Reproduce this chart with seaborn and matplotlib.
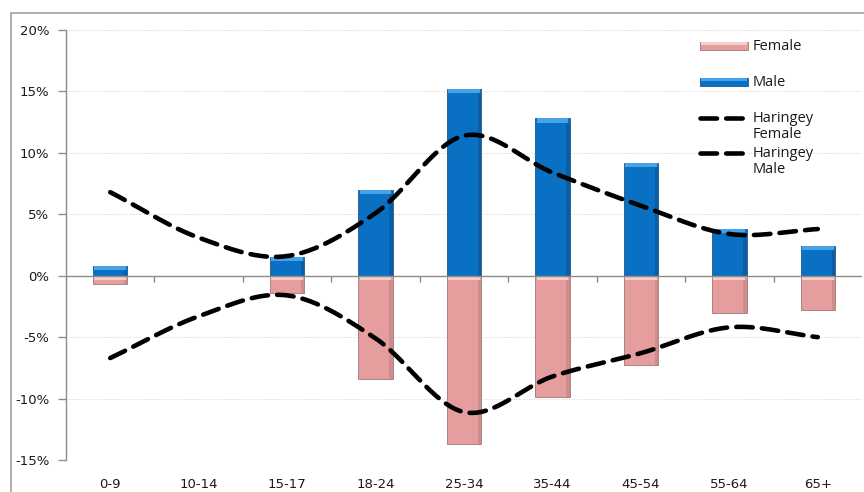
import numpy as np
import pandas as pd
import matplotlib
matplotlib.use("Agg")
import matplotlib.pyplot as plt
from matplotlib.patches import Rectangle
from matplotlib.lines import Line2D
import seaborn as sns

# Age bands and population shares (%)
age_groups = ["0-9", "10-14", "15-17", "18-24", "25-34", "35-44", "45-54", "55-64", "65+"]
male = [0.8, 0.0, 1.5, 7.0, 15.2, 12.8, 9.2, 3.8, 2.4]
female = [-0.7, 0.0, -1.4, -8.4, -13.7, -9.9, -7.3, -3.0, -2.8]
haringey_male = [6.8, 3.1, 1.6, 5.1, 11.4, 8.4, 5.7, 3.4, 3.8]
haringey_female = [-6.7, -3.3, -1.6, -5.1, -11.1, -8.2, -6.3, -4.2, -5.0]
y_ticks = [-15, -10, -5, 0, 5, 10, 15, 20]

sns.set_theme(style="white")
plt.rcParams["font.family"] = ["DejaVu Sans"]

df = pd.DataFrame({"age": age_groups, "male": male, "female": female})

fig = plt.figure(figsize=(8.64, 4.92), dpi=100)
ax = fig.add_axes([0.0764, 0.065, 0.9213, 0.874])

blue = "#0A70C4"
pink = "#E59E9D"
sns.barplot(data=df, x="age", y="male", color=blue, width=0.39, ax=ax,
            saturation=1, edgecolor="#2f6596", linewidth=0.7)
sns.barplot(data=df, x="age", y="female", color=pink, width=0.39, ax=ax,
            saturation=1, edgecolor="#a88382", linewidth=0.7)

# bevel: lighter strip along the top of every bar, darker right edge
for p in list(ax.patches):
    h = p.get_height()
    if h == 0:
        continue
    top = max(p.get_y(), p.get_y() + h)
    strip = min(0.33, abs(h) * 0.45)
    light = "#45a3e6" if h > 0 else "#f5cdcb"
    dark = "#0a5ea6" if h > 0 else "#cf8c8b"
    w = p.get_width()
    ax.add_patch(Rectangle((p.get_x() + 0.015, top - strip), w - 0.03, strip,
                           color=light, lw=0, zorder=2.5))
    ax.add_patch(Rectangle((p.get_x() + w * 0.9, min(p.get_y(), p.get_y() + h)),
                           w * 0.1, abs(h) - strip, color=dark, lw=0, zorder=2.4))


def smooth(xs, ys, n=30):
    """Catmull-Rom curve through the given points."""
    xs = np.asarray(xs, float)
    ys = np.asarray(ys, float)
    px = np.concatenate([[2 * xs[0] - xs[1]], xs, [2 * xs[-1] - xs[-2]]])
    py = np.concatenate([[2 * ys[0] - ys[1]], ys, [2 * ys[-1] - ys[-2]]])
    out_x, out_y = [], []
    t = np.linspace(0, 1, n, endpoint=False)
    for i in range(1, len(px) - 2):
        for arr, res in ((px, out_x), (py, out_y)):
            p0, p1, p2, p3 = arr[i - 1], arr[i], arr[i + 1], arr[i + 2]
            res.extend(0.5 * (2 * p1 + (-p0 + p2) * t + (2 * p0 - 5 * p1 + 4 * p2 - p3) * t ** 2
                              + (-p0 + 3 * p1 - 3 * p2 + p3) * t ** 3))
    out_x.append(xs[-1])
    out_y.append(ys[-1])
    return np.array(out_x), np.array(out_y)


dash = (0, (3.6, 2.0))
pos = np.arange(len(age_groups))
for series in (haringey_male, haringey_female):
    sx, sy = smooth(pos, series)
    ax.plot(sx, sy, color="black", lw=3.3, linestyle=dash,
            dash_capstyle="round", zorder=4)

ax.set_ylim(-15, 20)
ax.set_xlim(-0.5, len(age_groups) - 0.5)
ax.set_yticks(y_ticks)
ax.set_yticklabels([f"{v}%" for v in y_ticks])
ax.set_xlabel("")
ax.set_ylabel("")

for v in y_ticks:
    if v != 0:
        ax.axhline(v, color="#c4c4c4", lw=0.6, ls=(0, (1, 2)), zorder=0)
ax.axhline(0, color="#8c8c8c", lw=1.0, zorder=3)
ax.vlines(pos[:-1] + 0.5, -0.5, 0, color="#8c8c8c", lw=1.0, zorder=3)

for s in ["top", "right", "bottom"]:
    ax.spines[s].set_visible(False)
ax.spines["left"].set_color("#8c8c8c")
ax.spines["left"].set_linewidth(1.0)
ax.tick_params(axis="y", left=True, length=6, width=1.0, color="#8c8c8c",
               labelsize=9.5, pad=6, labelcolor="#1a1a1a")
ax.tick_params(axis="x", bottom=False, length=0, labelsize=9.5, pad=13,
               labelcolor="#1a1a1a")

# legend entries, one row every 36 px; two-line labels hang below their key
leg_font = {"family": "Open Sans", "size": 10.5, "color": "#1a1a1a"}
key_x0, key_x1, text_x = 0.796, 0.857, 0.862
rows = [0.963, 0.879, 0.795, 0.714]
labels = ["Female", "Male", "Haringey\nFemale", "Haringey\nMale"]
for i, (yr, lab) in enumerate(zip(rows, labels)):
    if i < 2:
        col, light, edge = (pink, "#f5cdcb", "#a88382") if i == 0 else (blue, "#45a3e6", "#2f6596")
        ax.add_patch(Rectangle((key_x0, yr - 0.01), key_x1 - key_x0, 0.02,
                               transform=ax.transAxes, facecolor=col,
                               edgecolor=edge, lw=0.7, zorder=5, clip_on=False))
        ax.add_patch(Rectangle((key_x0 + 0.002, yr + 0.003), key_x1 - key_x0 - 0.004, 0.006,
                               transform=ax.transAxes, color=light, lw=0,
                               zorder=5.5, clip_on=False))
    else:
        ax.add_line(Line2D([key_x0, key_x1], [yr, yr], transform=ax.transAxes,
                           color="black", lw=3.3, ls=dash, dash_capstyle="round",
                           zorder=5, clip_on=False))
    ax.text(text_x, yr + 0.016, lab, transform=ax.transAxes, ha="left", va="top",
            linespacing=1.1, fontdict=leg_font, zorder=6)

# outer chart frame
fig.patches.append(Rectangle((11 / 864, -0.05), 1.0, 1 - 13 / 492 + 0.05,
                             transform=fig.transFigure, fill=False,
                             edgecolor="#a0a0a0", lw=1.2))

fig.savefig("out.png", dpi=100)
